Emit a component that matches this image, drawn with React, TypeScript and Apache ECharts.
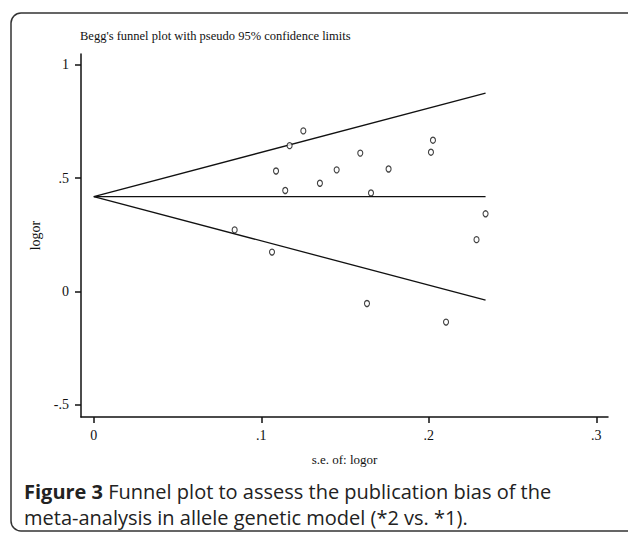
import React, { useEffect, useRef } from "react";
import * as echarts from "echarts";

// Study standard errors (x) and log odds ratios (y)
const seValues = [0.1251, 0.1169, 0.1088, 0.145, 0.135, 0.1143, 0.0841, 0.1064, 0.1591, 0.2025, 0.2013, 0.176, 0.1655, 0.2339, 0.2285, 0.1631, 0.2103];
const logorValues = [0.709, 0.644, 0.532, 0.537, 0.478, 0.446, 0.272, 0.174, 0.611, 0.668, 0.615, 0.541, 0.435, 0.343, 0.229, -0.053, -0.135];

// Funnel limits (pseudo 95% CI) endpoints
const funnelSe = [0, 0.2339];
const upperLimit = [0.419, 0.876];
const pooledLine = [0.419, 0.419];
const lowerLimit = [0.419, -0.038];

const xTicks = [0, 0.1, 0.2, 0.3];
const yTicks = [-0.5, 0, 0.5, 1];

const captionLabel = "Figure 3";
const captionLine1 = " Funnel plot to assess the publication bias of the";
const captionLine2 = "meta-analysis in allele genetic model (*2 vs. *1).";

const fmt = (v: number) => {
  if (Math.abs(v) < 1e-9) return "0";
  const s = String(Math.round(v * 10) / 10);
  return s.replace(/^0\./, ".").replace(/^-0\./, "-.");
};

const serif = "'Liberation Serif', 'Times New Roman', serif";
const sans = "'Open Sans', sans-serif";

export default function App() {
  const ref = useRef<HTMLDivElement>(null);
  useEffect(() => {
    if (!ref.current) return;
    const chart = echarts.init(ref.current, null, { renderer: "svg" });
    const pair = (ys: number[]) => funnelSe.map((x, i) => [x, ys[i]]);
    const lineStyle = { color: "#111", width: 1.3 };

    const boldFont = `bold 20px ${sans}`;
    let boldW = 82;
    try {
      const ctx = document.createElement("canvas").getContext("2d");
      if (ctx) {
        ctx.font = boldFont;
        boldW = ctx.measureText(captionLabel).width;
      }
    } catch (e) {}

    const capLeft = 24;
    const capTop = 481;
    const capGap = 26;

    chart.setOption({
      animation: false,
      backgroundColor: "#fff",
      grid: { left: 81, top: 54, right: 20, bottom: 117, containLabel: false },
      xAxis: {
        type: "value",
        min: -0.00764,
        max: 0.307,
        name: "s.e. of: logor",
        nameLocation: "middle",
        nameGap: 36,
        nameTextStyle: { fontFamily: serif, fontSize: 13, color: "#111" },
        axisLine: { show: true, onZero: false, lineStyle: { color: "#111", width: 1.5 } },
        axisTick: { show: true, length: 6, lineStyle: { color: "#111", width: 1.5 }, customValues: xTicks },
        axisLabel: { customValues: xTicks, formatter: (v: number) => fmt(v), fontFamily: serif, fontSize: 14, color: "#111", margin: 11 },
        splitLine: { show: false },
      },
      yAxis: {
        type: "value",
        min: -0.554,
        max: 1.0485,
        name: "logor",
        nameLocation: "middle",
        nameGap: 32,
        nameTextStyle: { fontFamily: serif, fontSize: 14, color: "#111" },
        axisLine: { show: true, onZero: false, lineStyle: { color: "#111", width: 1.5 } },
        axisTick: { show: true, length: 6, lineStyle: { color: "#111", width: 1.5 }, customValues: yTicks },
        axisLabel: { customValues: yTicks, formatter: (v: number) => fmt(v), fontFamily: serif, fontSize: 14, color: "#111", margin: 12 },
        splitLine: { show: false },
      },
      series: [
        { type: "line", data: pair(upperLimit), symbol: "none", lineStyle, silent: true },
        { type: "line", data: pair(pooledLine), symbol: "none", lineStyle, silent: true },
        { type: "line", data: pair(lowerLimit), symbol: "none", lineStyle, silent: true },
        {
          type: "scatter",
          data: seValues.map((x, i) => [x, logorValues[i]]),
          symbol: "circle",
          symbolSize: [5, 6],
          itemStyle: { color: "#fff", borderColor: "#111", borderWidth: 1.2 },
          z: 5,
        },
      ],
      graphic: [
        {
          type: "rect",
          shape: { x: 11, y: 13, width: 660, height: 518, r: 10 },
          style: { fill: "none", stroke: "#333", lineWidth: 1.5 },
          silent: true,
        },
        {
          type: "text",
          left: 80,
          top: 29,
          style: { text: "Begg's funnel plot with pseudo 95% confidence limits", font: `12.5px ${serif}`, fill: "#111" },
        },
        {
          type: "text",
          x: capLeft,
          y: capTop,
          style: { text: captionLabel, font: boldFont, fill: "#222", lineHeight: 20 },
        },
        {
          type: "text",
          x: capLeft + boldW,
          y: capTop,
          style: { text: captionLine1, font: `20px ${sans}`, fill: "#222", lineHeight: 20 },
        },
        {
          type: "text",
          x: capLeft,
          y: capTop + capGap,
          style: { text: captionLine2, font: `20px ${sans}`, fill: "#222", lineHeight: 20 },
        },
      ],
    });
    return () => chart.dispose();
  }, []);
  return <div ref={ref} style={{ position: "fixed", left: 0, top: 0, width: 628, height: 534 }} />;
}
